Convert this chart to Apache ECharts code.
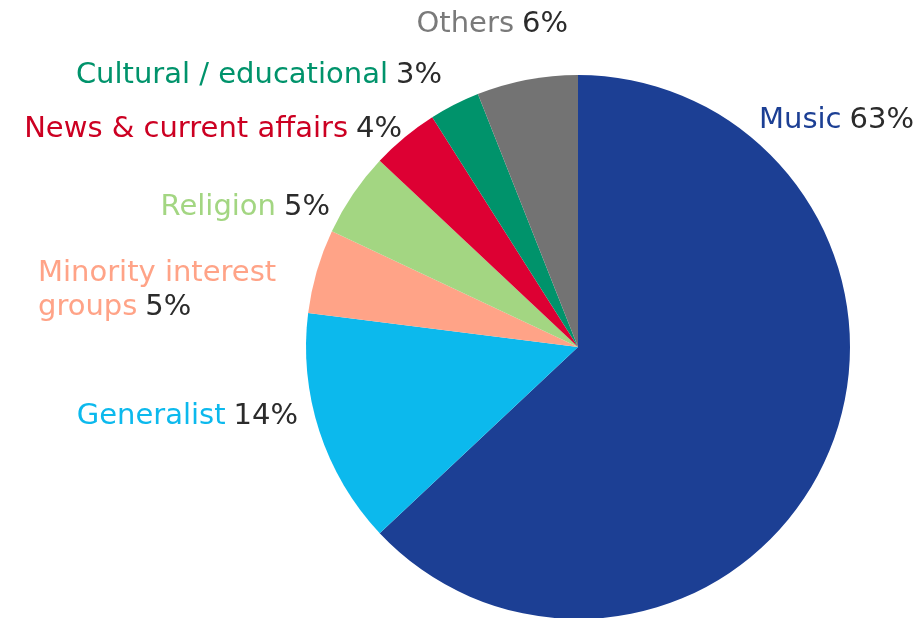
<!DOCTYPE html>
<html>
<head>
<meta charset="utf-8">
<script src="https://cdn.jsdelivr.net/npm/echarts@6/dist/echarts.min.js"></script>
<style>
  html, body { margin: 0; padding: 0; background: #fff; }
  #chart { width: 920px; height: 618px; }
</style>
</head>
<body>
<div id="chart"></div>
<script>
// Share of stations by programme format (%)
const categories = ['Music', 'Generalist', 'Minority interest\ngroups', 'Religion',
  'News & current affairs', 'Cultural / educational', 'Others'];
const shares = [63, 14, 5, 5, 4, 3, 6];
const sliceColors = ['#1c3f94', '#0cb9ed', '#ffa387', '#a3d682', '#dd0033', '#00936b', '#737373'];
const nameColors = ['#1c3f94', '#0cb9ed', '#ffa387', '#a3d682', '#cc0022', '#00936b', '#7a7a7a'];

// label anchor per slice: [x, y, align]
const labelSpots = [
  [759, 120, 'left'],
  [298, 416, 'right'],
  [38, 290, 'left'],
  [330, 207, 'right'],
  [402, 129, 'right'],
  [442, 75, 'right'],
  [568, 24, 'right']
];

const FONT = 'DejaVu Sans';
const SIZE = 29;
const rich = { v: { color: '#2b2b2b', fontSize: SIZE, fontFamily: FONT, lineHeight: 34, padding: [0, 0, 0, 8] } };
nameColors.forEach((c, i) => {
  rich['n' + i] = { color: c, fontSize: SIZE, fontFamily: FONT, lineHeight: 34 };
});

const chart = echarts.init(document.getElementById('chart'), null, { renderer: 'canvas' });
chart.setOption({
  animation: false,
  series: [{
    type: 'pie',
    center: [578, 347],
    radius: 272,
    startAngle: 90,
    clockwise: true,
    itemStyle: { borderWidth: 0 },
    labelLine: { show: false },
    label: {
      show: true,
      position: 'outside',
      overflow: 'none',
      formatter: p => {
        const lines = p.name.split('\n');
        const tag = 'n' + p.dataIndex;
        return lines.map((l, k) => k === lines.length - 1
          ? `{${tag}|${l}}{v|${p.value}%}`
          : `{${tag}|${l}}`).join('\n');
      },
      rich: rich
    },
    labelLayout: p => {
      const s = labelSpots[p.dataIndex];
      return { x: s[0], y: s[1], align: s[2], verticalAlign: 'middle', hideOverlap: false, moveOverlap: null };
    },
    emphasis: { disabled: true },
    data: categories.map((n, i) => ({ name: n, value: shares[i], itemStyle: { color: sliceColors[i] } }))
  }]
});
</script>
</body>
</html>
